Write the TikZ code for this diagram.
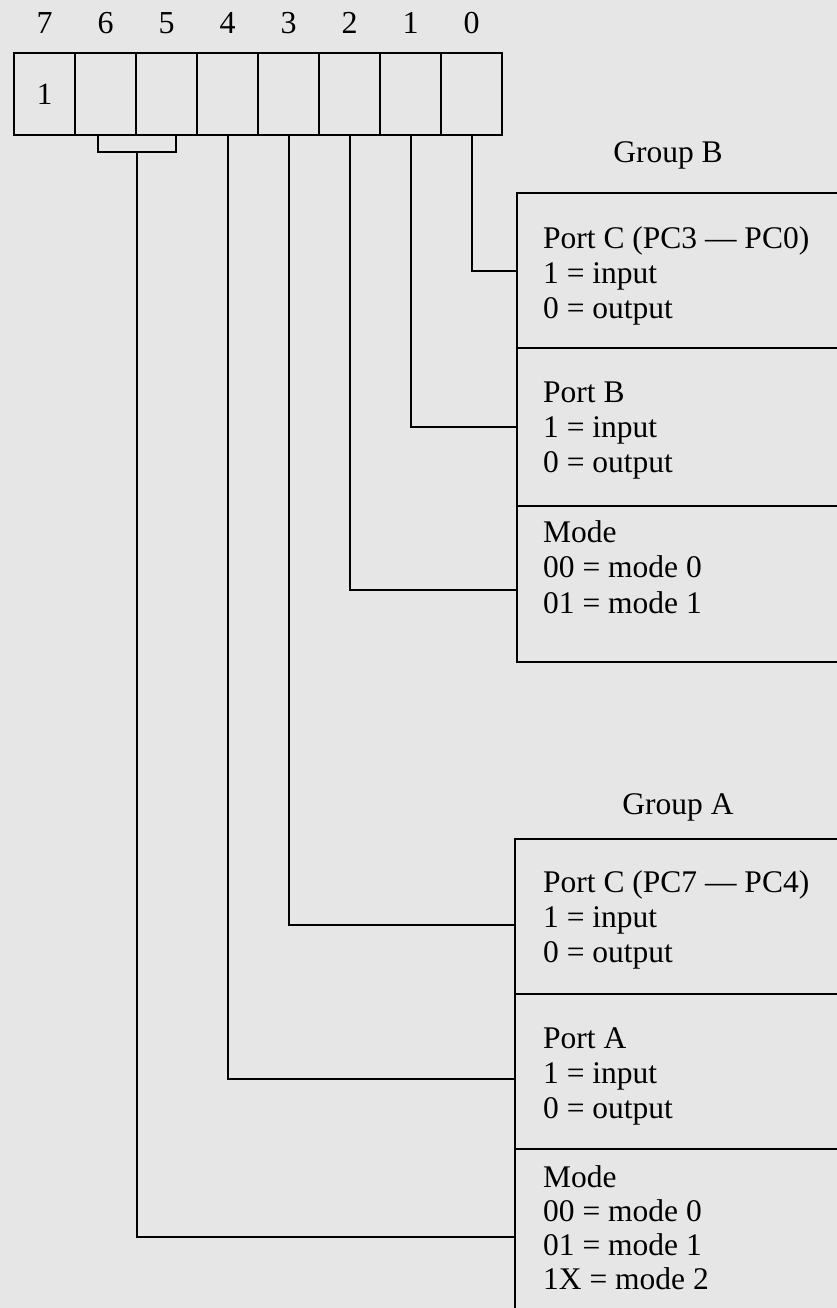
\documentclass[tikz,border=0pt]{standalone}
\usepackage{fontspec}
\setmainfont{Liberation Serif}
\begin{document}
\begin{tikzpicture}[x=1pt,y=-1pt,
  every node/.style={inner sep=0pt},
  cell/.style={draw, line width=2.2pt, minimum width=61pt, minimum height=82pt, font=\fontsize{31}{35}\selectfont},
  sect/.style={draw, line width=2.2pt, anchor=north west},
  txt/.style={anchor=base west, font=\fontsize{31.5}{35}\selectfont},
  bitlbl/.style={font=\fontsize{32}{35}\selectfont},
  conn/.style={line width=2pt}]
\definecolor{bg}{HTML}{E6E6E6}
\fill[bg] (0,0) rectangle (837,1308);
\useasboundingbox (0,0) rectangle (837,1308);
\clip (0,0) rectangle (837,1308);
% register
\foreach \i in {7,...,0} {
  \pgfmathsetmacro{\cx}{14+61*(7-\i)+30.5}
  \node[cell] (c\i) at (\cx,94) {};
  \node[bitlbl] (l\i) at (\cx,23) {\i};
}
\node[font=\fontsize{31}{35}\selectfont] (one) at (c7.center) {1};
% Group B
\node (gB) at (668,155) {\fontsize{31.5}{35}\selectfont Group B};
\node[sect, minimum width=340pt, minimum height=155pt] (gb1) at (516,192) {};
\node[sect, minimum width=340pt, minimum height=158pt] (gb2) at (516,347) {};
\node[sect, minimum width=340pt, minimum height=156pt] (gb3) at (516,505) {};
\node[txt] (tb1) at (543,248) {\vtop{\baselineskip=35pt\hbox{Port C (PC3 — PC0)}\hbox{1 = input}\hbox{0 = output}}};
\node[txt] (tb2) at (543,402) {\vtop{\baselineskip=35pt\hbox{Port B}\hbox{1 = input}\hbox{0 = output}}};
\node[txt] (tb3) at (543,542) {\vtop{\baselineskip=35.5pt\hbox{Mode}\hbox{00 = mode 0}\hbox{01 = mode 1}}};
% Group A
\node (gA) at (678,807) {\fontsize{31.5}{35}\selectfont Group A};
\node[sect, minimum width=340pt, minimum height=155pt] (ga1) at (514,838) {};
\node[sect, minimum width=340pt, minimum height=155pt] (ga2) at (514,993) {};
\node[sect, minimum width=340pt, minimum height=200pt] (ga3) at (514,1148) {};
\node[txt] (ta1) at (543,892) {\vtop{\baselineskip=35pt\hbox{Port C (PC7 — PC4)}\hbox{1 = input}\hbox{0 = output}}};
\node[txt] (ta2) at (543,1048) {\vtop{\baselineskip=35pt\hbox{Port A}\hbox{1 = input}\hbox{0 = output}}};
\node[txt] (ta3) at (543,1187) {\vtop{\baselineskip=34pt\hbox{Mode}\hbox{00 = mode 0}\hbox{01 = mode 1}\hbox{1X = mode 2}}};
% connectors
\draw[conn] (c0.south) |- (gb1.west);
\draw[conn] (c1.south) |- (gb2.west);
\draw[conn] (c2.south) |- (gb3.west |- 0,590);
\draw[conn] (c3.south) |- (ga1.west |- 0,925);
\draw[conn] (c4.south) |- (ga2.west |- 0,1079);
\coordinate (bl) at (98,135);
\coordinate (br) at (176,135);
\coordinate (bm) at (137,152);
\draw[conn] (bl) -- (98,152) -- (176,152) -- (br);
\draw[conn] (bm) |- (ga3.west |- 0,1237);
\end{tikzpicture}
\end{document}
